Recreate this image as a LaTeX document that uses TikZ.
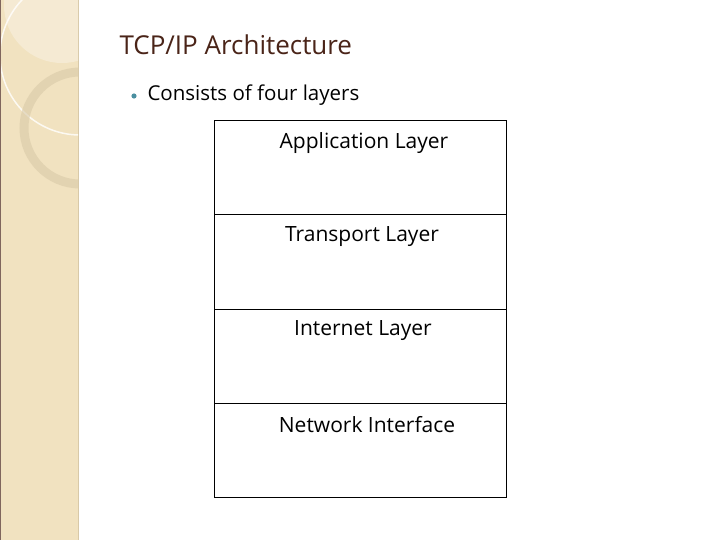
\documentclass[tikz,border=0pt]{standalone}
\usepackage{fontspec}
\setmainfont{Open Sans}
\definecolor{beige}{HTML}{F1E2C0}
\definecolor{beigeline}{HTML}{D8C9A8}
\definecolor{titlec}{HTML}{4A2418}
\definecolor{bul}{HTML}{4A8FA0}
\tikzset{lay/.style={anchor=center,font=\fontsize{21}{25}\selectfont}}
\begin{document}
\begin{tikzpicture}[x=1pt,y=-1pt]
\fill[white] (0,0) rectangle (720,540);
\useasboundingbox (0,0) rectangle (720,540);
\fill[beige] (0,0) rectangle (78,540);
\draw[beigeline,line width=1pt] (78,0) -- (78,540);
\begin{scope}
\clip (0,0) rectangle (78,540);
\fill[white,opacity=0.3] (62,5) circle (58);
\draw[white,line width=1.5pt,opacity=0.8] (80,55) circle (80);
\draw[beigeline,line width=9pt,opacity=0.6] (80,128) circle (56);
\end{scope}
\draw[titlec!70,line width=1pt] (0,0) -- (0,540);
\node[anchor=west,text=titlec,font=\fontsize{26}{30}\selectfont] (title) at (116,45) {TCP/IP Architecture};
\fill[bul] (134,96) circle (2.6);
\node[anchor=west,font=\fontsize{20.5}{24}\selectfont] (sub) at (144,95) {Consists of four layers};
\draw[line width=0.8pt] (214,120) rectangle (506,497);
\draw[line width=0.8pt] (214,214) -- (506,214);
\draw[line width=0.8pt] (214,309) -- (506,309);
\draw[line width=0.8pt] (214,403) -- (506,403);
\node[lay] (a) at (364,143) {Application Layer};
\node[lay] (t) at (362,237) {Transport Layer};
\node[lay] (i) at (363,331) {Internet Layer};
\node[lay] (n) at (367,425) {Network Interface};
\end{tikzpicture}
\end{document}
